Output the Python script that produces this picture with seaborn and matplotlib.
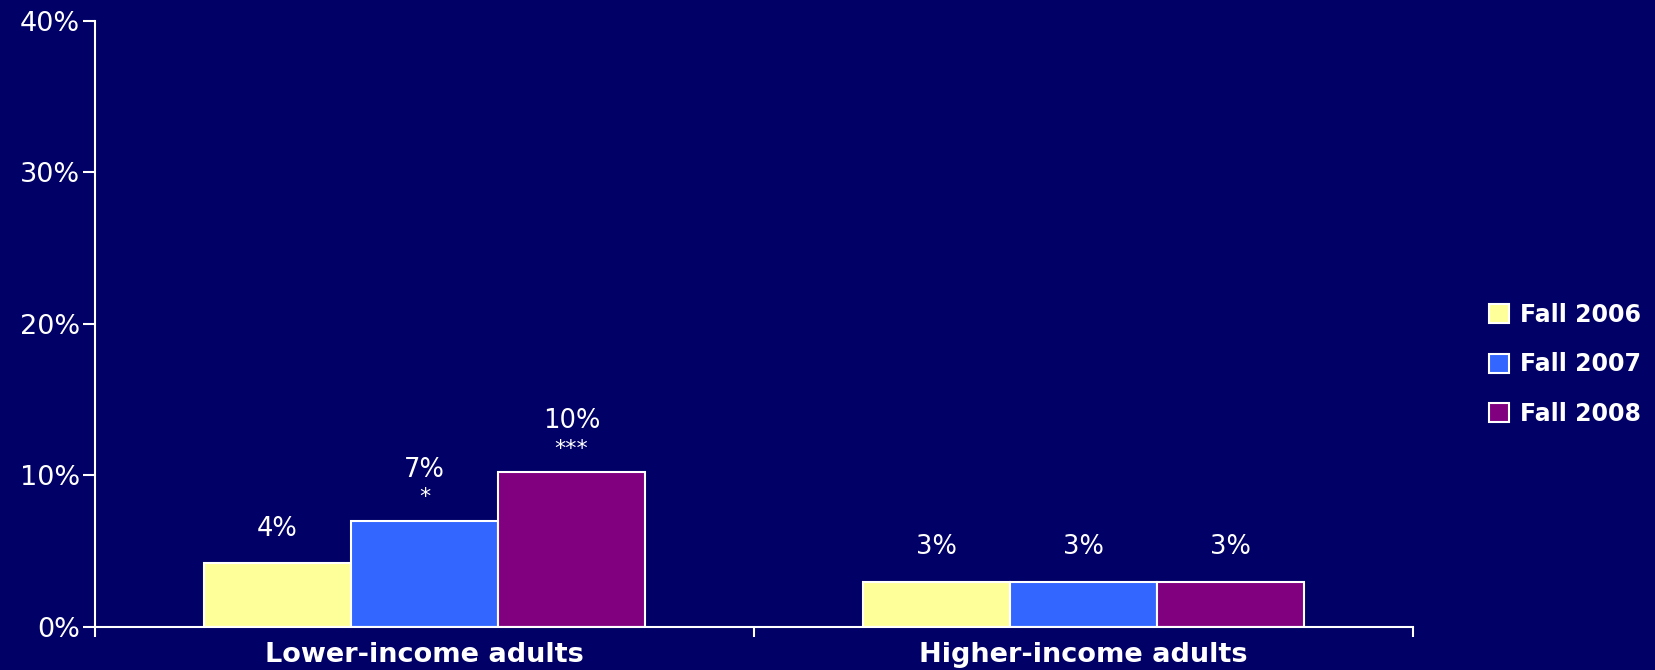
import matplotlib
matplotlib.use("Agg")
import matplotlib.pyplot as plt
from matplotlib.patches import Patch
from matplotlib.ticker import FuncFormatter, FixedLocator
import seaborn as sns
import pandas as pd

# ---- data ----
groups = ["Lower-income adults", "Higher-income adults"]
seasons = ["Fall 2006", "Fall 2007", "Fall 2008"]
fall_2006 = [4.2, 3.0]
fall_2007 = [7.0, 3.0]
fall_2008 = [10.2, 3.0]
value_labels = [["4%", "3%"], ["7%", "3%"], ["10%", "3%"]]
sig_marks = [["", ""], ["*", ""], ["***", ""]]
y_ticks = [0, 10, 20, 30, 40]

colors = ["#FFFF99", "#3366FF", "#800080"]
bg = "#000066"

series = [fall_2006, fall_2007, fall_2008]
rows = []
for s, vals in zip(seasons, series):
    for g, v in zip(groups, vals):
        rows.append({"group": g, "season": s, "value": v})
df = pd.DataFrame(rows)

sns.set_style("white")
plt.rcParams["font.family"] = ["DejaVu Sans"]

fig = plt.figure(figsize=(16.56, 6.70), dpi=100, facecolor=bg)
ax = fig.add_axes([0.0574, 0.0642, 0.7956, 0.9045])
ax.set_facecolor(bg)

sns.barplot(data=df, x="group", y="value", hue="season", order=groups,
            hue_order=seasons, palette=colors, width=0.67, edgecolor="white",
            linewidth=1.5, saturation=1, legend=False, ax=ax, errorbar=None)

ax.set_xlim(-0.5, 1.5)
ax.set_ylim(0, 40)
ax.set_yticks(y_ticks)
ax.yaxis.set_major_formatter(FuncFormatter(lambda v, p: f"{v:.0f}%"))
ax.set_xlabel("")
ax.set_ylabel("")

for side in ["top", "right"]:
    ax.spines[side].set_visible(False)
for side in ["left", "bottom"]:
    ax.spines[side].set_color("white")
    ax.spines[side].set_linewidth(1.5)

ax.tick_params(axis="y", colors="white", labelsize=19.5, length=9, width=1.5,
               direction="out", pad=2, left=True)
ax.tick_params(axis="x", which="major", colors="white", length=0, pad=11)
for lab in ax.get_xticklabels():
    lab.set_fontsize(19.5)
    lab.set_fontweight("bold")
ax.xaxis.set_minor_locator(FixedLocator([-0.5, 0.5, 1.5]))
ax.tick_params(axis="x", which="minor", colors="white", length=7, width=1.5,
               direction="out", bottom=True)

# value labels
for ci, cont in enumerate(ax.containers):
    for bi, bar in enumerate(cont):
        xc = bar.get_x() + bar.get_width() / 2
        h = bar.get_height()
        mark = sig_marks[ci][bi]
        if mark:
            ax.annotate(mark, (xc, h), xytext=(0, 17), textcoords="offset points",
                        ha="center", va="center", color="white", fontsize=16)
            ax.annotate(value_labels[ci][bi], (xc, h), xytext=(0, 37),
                        textcoords="offset points", ha="center", va="center",
                        color="white", fontsize=18.5)
        else:
            ax.annotate(value_labels[ci][bi], (xc, h), xytext=(0, 25),
                        textcoords="offset points", ha="center", va="center",
                        color="white", fontsize=18.5)

handles = [Patch(facecolor=c, edgecolor="white", linewidth=1.5) for c in colors]
leg = fig.legend(handles, seasons, loc="center left", bbox_to_anchor=(0.8992, 0.456),
                 frameon=False, prop={"size": 17, "weight": "bold"},
                 labelcolor="white", handlelength=0.85, handleheight=0.85,
                 handletextpad=0.45, labelspacing=1.08, borderaxespad=0,
                 borderpad=0)

fig.savefig("out.png", dpi=100, facecolor=bg)
